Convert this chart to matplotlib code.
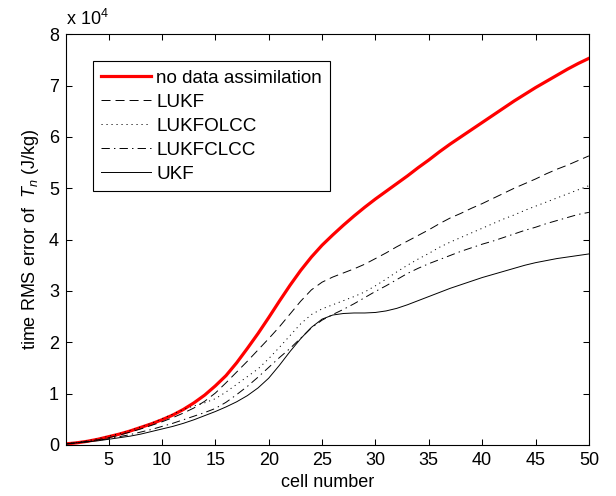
import numpy as np
import matplotlib
matplotlib.use("Agg")
import matplotlib.pyplot as plt

plt.rcParams['font.family'] = ['Liberation Sans', 'DejaVu Sans']
plt.rcParams['mathtext.fontset'] = 'custom'
plt.rcParams['mathtext.rm'] = 'Liberation Sans'
plt.rcParams['mathtext.it'] = 'Liberation Sans:italic'
plt.rcParams['lines.scale_dashes'] = False

# time RMS error of T_n, in units of 1e4 J/kg, one value per cell
cells = np.arange(1, 51)
no_da = [0.02, 0.04, 0.07, 0.11, 0.16, 0.21, 0.27, 0.34, 0.41, 0.49,
         0.58, 0.69, 0.82, 0.97, 1.15, 1.35, 1.60, 1.88, 2.17, 2.48,
         2.80, 3.11, 3.40, 3.66, 3.89, 4.09, 4.28, 4.46, 4.63, 4.79,
         4.94, 5.09, 5.24, 5.40, 5.55, 5.71, 5.86, 6.00, 6.14, 6.28,
         6.42, 6.56, 6.70, 6.83, 6.96, 7.08, 7.20, 7.32, 7.43, 7.53]
lukf = [0.02, 0.04, 0.07, 0.10, 0.14, 0.19, 0.25, 0.31, 0.38, 0.45,
        0.53, 0.62, 0.72, 0.85, 1.01, 1.21, 1.42, 1.63, 1.85, 2.07,
        2.30, 2.55, 2.80, 3.02, 3.17, 3.27, 3.35, 3.43, 3.52, 3.63,
        3.74, 3.86, 3.97, 4.08, 4.19, 4.31, 4.42, 4.51, 4.61, 4.70,
        4.80, 4.90, 5.00, 5.09, 5.18, 5.28, 5.37, 5.45, 5.54, 5.63]
lukfolcc = [0.02, 0.05, 0.08, 0.12, 0.17, 0.22, 0.28, 0.35, 0.42, 0.51,
            0.60, 0.69, 0.76, 0.82, 0.90, 1.03, 1.18, 1.33, 1.48, 1.68,
            1.90, 2.13, 2.36, 2.54, 2.65, 2.73, 2.81, 2.89, 2.98, 3.10,
            3.23, 3.37, 3.50, 3.62, 3.73, 3.85, 3.95, 4.04, 4.13, 4.22,
            4.31, 4.40, 4.48, 4.57, 4.65, 4.73, 4.81, 4.89, 4.97, 5.05]
lukfclcc = [0.02, 0.04, 0.06, 0.09, 0.12, 0.16, 0.20, 0.25, 0.30, 0.36,
            0.42, 0.49, 0.56, 0.63, 0.71, 0.83, 0.98, 1.14, 1.32, 1.51,
            1.70, 1.88, 2.08, 2.28, 2.43, 2.54, 2.64, 2.75, 2.87, 2.99,
            3.10, 3.22, 3.34, 3.44, 3.53, 3.61, 3.69, 3.77, 3.84, 3.91,
            3.97, 4.04, 4.11, 4.18, 4.24, 4.31, 4.37, 4.43, 4.49, 4.53]
ukf = [0.02, 0.04, 0.06, 0.08, 0.11, 0.14, 0.17, 0.21, 0.26, 0.31,
       0.36, 0.42, 0.49, 0.57, 0.65, 0.74, 0.84, 0.96, 1.11, 1.30,
       1.55, 1.82, 2.07, 2.29, 2.45, 2.53, 2.56, 2.57, 2.57, 2.58,
       2.61, 2.66, 2.73, 2.81, 2.89, 2.97, 3.05, 3.12, 3.19, 3.26,
       3.32, 3.38, 3.44, 3.50, 3.55, 3.59, 3.63, 3.66, 3.69, 3.72]

fig = plt.figure(figsize=(6.16, 4.96), dpi=100)
ax = fig.add_axes([0.107, 0.103, 0.849, 0.828])

ax.plot(cells, no_da, color='#ff0000', lw=2.3, label='no data assimilation')
ax.plot(cells, lukf, color='k', lw=0.7, dashes=(6.5, 3.6), label='LUKF')
ax.plot(cells, lukfolcc, color='k', lw=0.7, dashes=(0.8, 2.8), label='LUKFOLCC')
ax.plot(cells, lukfclcc, color='k', lw=0.7, dashes=(6, 3, 1, 3), label='LUKFCLCC')
ax.plot(cells, ukf, color='k', lw=0.7, label='UKF')

ax.set_xlim(1, 50)
ax.set_ylim(0, 8)
ax.set_xticks(np.arange(5, 51, 5))
ax.set_yticks(np.arange(0, 9, 1))
ax.tick_params(direction='in', top=True, right=True, length=4, width=0.75,
               labelsize=13, pad=5)
for s in ax.spines.values():
    s.set_linewidth(0.8)

ax.text(0.0, 1.012, r'x 10$^4$', transform=ax.transAxes, fontsize=13,
        ha='left', va='bottom')
ax.set_xlabel('cell number', fontsize=13, labelpad=4)
ax.set_ylabel(r'time RMS error of  $T_n$ (J/kg)', fontsize=13, labelpad=6)

leg = ax.legend(loc='upper left', bbox_to_anchor=(0.0516, 0.935), borderaxespad=0,
                fontsize=13.6, handlelength=2.6, handletextpad=0.3,
                labelspacing=0.36, borderpad=0.45, fancybox=False,
                edgecolor='k', framealpha=1)
leg.get_frame().set_linewidth(0.8)

plt.savefig('out.png', dpi=100)
